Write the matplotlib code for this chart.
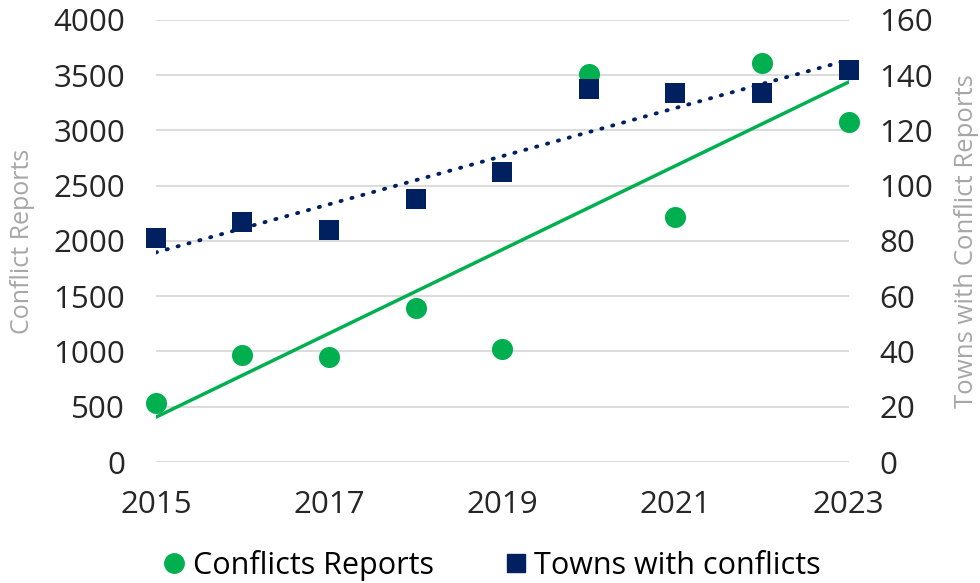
import matplotlib.pyplot as plt
import numpy as np
from matplotlib.lines import Line2D

years = [2015, 2016, 2017, 2018, 2019, 2020, 2021, 2022, 2023]
conflict_reports = [537, 969, 952, 1397, 1020, 3510, 2218, 3612, 3078]
towns_with_conflicts = [81, 87, 84, 95, 105, 135, 133.5, 133.5, 142]

green = '#00B050'
navy = '#002060'
plt.rcParams['font.family'] = ['Open Sans', 'DejaVu Sans']

fig = plt.figure(figsize=(9.8, 5.83), dpi=100)
ax = fig.add_axes([0.159, 0.2075, 0.707, 0.7585])
ax2 = ax.twinx()

x = np.array(years)
# trendlines (linear fit)
p1 = np.polyfit(x, conflict_reports, 1)
p2 = np.polyfit(x, towns_with_conflicts, 1)
ax.plot(x[[0, -1]], np.polyval(p1, x[[0, -1]]), color=green, lw=2.5, zorder=2)
ax2.plot(x[[0, -1]], np.polyval(p2, x[[0, -1]]), color=navy, lw=2.8,
         linestyle=(0, (0.3, 2.6)), dash_capstyle='round', zorder=2)

ax.scatter(x, conflict_reports, s=230, color=green, marker='o', zorder=3,
           linewidths=0, clip_on=False)
ax2.scatter(x, towns_with_conflicts, s=200, color=navy, marker='s', zorder=3,
            linewidths=0, clip_on=False)

ax.set_xlim(2015, 2023)
ax.set_ylim(0, 4000)
ax2.set_ylim(0, 160)
ax.set_xticks([2015, 2017, 2019, 2021, 2023])
ax.set_yticks(range(0, 4001, 500))
ax2.set_yticks(range(0, 161, 20))

ax.grid(axis='y', color='#D9D9D9', lw=1.3)
ax.set_axisbelow(True)
for a in (ax, ax2):
    for s in a.spines.values():
        s.set_visible(False)
    a.tick_params(length=0, labelsize=22.5, colors='#262626')
ax.tick_params(axis='y', pad=22)
ax2.tick_params(axis='y', pad=22)
ax.tick_params(axis='x', pad=20)

ax.set_ylabel('Conflict Reports', color='#A6A6A6', fontsize=18, labelpad=13)
ax2.set_ylabel('Towns with Conflict Reports', color='#A6A6A6', fontsize=18.5, labelpad=15)

handles = [Line2D([], [], marker='o', color=green, linestyle='none', markersize=14),
           Line2D([], [], marker='s', color=navy, linestyle='none', markersize=13)]
fig.legend(handles, ['Conflicts Reports', 'Towns with conflicts'], loc='center',
           bbox_to_anchor=(0.5, 0.03), ncol=2, frameon=False, fontsize=22,
           handletextpad=0.1, columnspacing=2.2, handlelength=1.0)

fig.savefig('out.png', dpi=100)
